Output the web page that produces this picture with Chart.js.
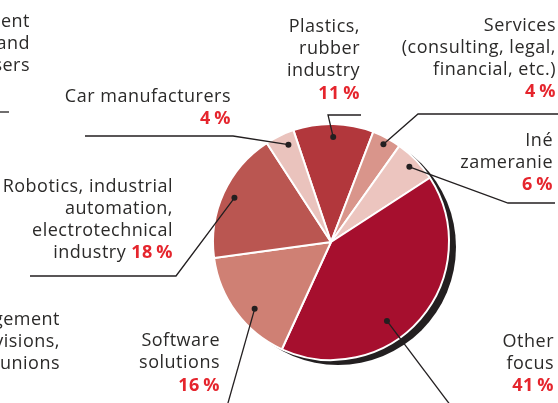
<!DOCTYPE html>
<html>
<head>
<meta charset="utf-8">
<script src="https://cdn.jsdelivr.net/npm/chart.js@4"></script>
<style>
  html, body { margin: 0; padding: 0; background: #fff; }
  #wrap { width: 558px; height: 403px; }
</style>
</head>
<body>
<div id="wrap"><canvas id="pie-chart" width="558" height="403"></canvas></div>
<script>
// Chart data
const categories = [
    'Plastics, rubber industry',
    'Services (consulting, legal, financial, etc.)',
    'Iné zameranie',
    'Other focus',
    'Software solutions',
    'Robotics, industrial automation, electrotechnical industry',
    'Car manufacturers'
];
const shares = [11, 4, 6, 41, 16, 18, 4];  // percent
const sliceColors = ['#b2373c', '#d9958b', '#ecc5bf', '#a60f2e', '#cf8074', '#ba5651', '#eac3bd'];

// Label layout (how the names are broken, where they sit, leader lines)
const labelLayout = [
    { lines: ['Plastics,', 'rubber', 'industry'], right: 360, top: 32, pctY: 99, t: 0.5, r: 0.89, path: [[328, 115], [361, 115]] },
    { lines: ['Services', '(consulting, legal,', 'financial, etc.)'], right: 556, top: 31, pctY: 97, t: 0.5, r: 0.94, path: [[418, 114], [560, 114]] },
    { lines: ['Iné', 'zameranie'], right: 553, top: 146, pctY: 190, t: 0.5, r: 0.92, path: [[508, 203], [555, 203]] },
    { lines: ['Other', 'focus'], right: 554, top: 347, pctY: 391, t: 0.594, r: 0.82, path: [[454, 410]] },
    { lines: ['Software', 'solutions'], right: 220, top: 346, pctY: 391, t: 0.42, r: 0.86, path: [[226, 410]] },
    { lines: ['Robotics, industrial', 'automation,', 'electrotechnical', 'industry'], right: 173, top: 192, pctY: null, t: 0.5, r: 0.9, path: [[176, 276], [30, 276]] },
    { lines: ['Car manufacturers'], right: 231, top: 102, pctY: 124, t: 0.65, r: 0.9, path: [[233, 136], [85, 136]] }
];

// Pieces of labels that belong to the neighbouring (cut off) part of the page
const cutLabels = [
    { lines: ['Equipment', 'Machinery and', 'other users'], right: 30, top: 27 },
    { lines: ['Management', 'supervisions,', 'trade unions'], right: 60, top: 325 }
];

const textColor = '#2b2a29';
const pctColor = '#e5252d';
const inkColor = '#231f20';
const FONT = '"Open Sans", sans-serif';
const LINE = 22;

const shadowPlugin = {
    id: 'shadow',
    beforeDatasetsDraw(chart) {
        const arc = chart.getDatasetMeta(0).data[0];
        if (!arc) return;
        const ctx = chart.ctx;
        ctx.save();
        ctx.fillStyle = inkColor;
        ctx.beginPath();
        ctx.arc(arc.x + 7, arc.y + 5, arc.outerRadius, 0, Math.PI * 2);
        ctx.fill();
        ctx.restore();
    }
};

const labelPlugin = {
    id: 'labels',
    afterDraw(chart) {
        const ctx = chart.ctx;
        const arcs = chart.getDatasetMeta(0).data;
        ctx.save();
        ctx.textAlign = 'right';
        ctx.textBaseline = 'alphabetic';
        ctx.letterSpacing = '0.5px';

        // leader lines and dots
        labelLayout.forEach((lay, i) => {
            const a = arcs[i];
            const ang = a.startAngle + (a.endAngle - a.startAngle) * lay.t;
            const px = a.x + Math.cos(ang) * a.outerRadius * lay.r;
            const py = a.y + Math.sin(ang) * a.outerRadius * lay.r;
            ctx.strokeStyle = inkColor;
            ctx.lineWidth = 1.3;
            ctx.beginPath();
            ctx.moveTo(px, py);
            lay.path.forEach(p => ctx.lineTo(p[0], p[1]));
            ctx.stroke();
            ctx.fillStyle = inkColor;
            ctx.beginPath();
            ctx.arc(px, py, 3, 0, Math.PI * 2);
            ctx.fill();
        });
        ctx.strokeStyle = inkColor;
        ctx.lineWidth = 1.3;
        ctx.beginPath();
        ctx.moveTo(0, 112);
        ctx.lineTo(9, 112);
        ctx.stroke();

        // label texts
        labelLayout.forEach((lay, i) => {
            const pct = shares[i] + '\u2009%';
            ctx.font = '18px ' + FONT;
            ctx.fillStyle = textColor;
            lay.lines.forEach((line, k) => {
                const y = lay.top + k * LINE;
                if (lay.pctY === null && k === lay.lines.length - 1) {
                    ctx.font = 'bold 18px ' + FONT;
                    const w = ctx.measureText(pct).width;
                    ctx.fillStyle = pctColor;
                    ctx.fillText(pct, lay.right, y);
                    ctx.font = '18px ' + FONT;
                    ctx.fillStyle = textColor;
                    ctx.fillText(line, lay.right - w - 5, y);
                } else {
                    ctx.fillText(line, lay.right, y);
                }
            });
            if (lay.pctY !== null) {
                ctx.font = 'bold 18px ' + FONT;
                ctx.fillStyle = pctColor;
                ctx.fillText(pct, lay.right, lay.pctY);
            }
        });

        ctx.font = '18px ' + FONT;
        ctx.fillStyle = textColor;
        cutLabels.forEach(lab => {
            lab.lines.forEach((line, k) => ctx.fillText(line, lab.right, lab.top + k * LINE));
        });
        ctx.restore();
    }
};

const pieChart = document.getElementById('pie-chart').getContext('2d');
const pieChartInstance = new Chart(pieChart, {
    type: 'pie',
    data: {
        labels: categories,
        datasets: [{
            data: shares,
            backgroundColor: sliceColors,
            borderColor: '#ffffff',
            borderWidth: 2,
            hoverOffset: 0,
            radius: 118
        }]
    },
    options: {
        responsive: false,
        animation: false,
        rotation: -18.6,
        layout: { padding: { left: 213, right: 109, top: 124, bottom: 43 } },
        plugins: {
            legend: { display: false },
            tooltip: { enabled: false }
        }
    },
    plugins: [shadowPlugin, labelPlugin]
});
</script>
</body>
</html>
